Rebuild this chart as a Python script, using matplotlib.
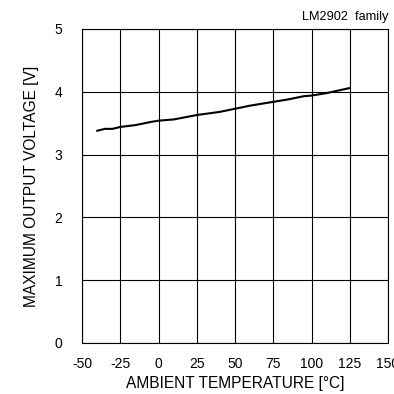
import matplotlib
matplotlib.use("Agg")
import matplotlib.pyplot as plt

temperature = [-40, -35, -30, -25, -15, -5, 0, 10, 25, 40, 50, 60, 75, 85, 95, 100, 110, 125]
voltage = [3.38, 3.41, 3.41, 3.44, 3.47, 3.52, 3.54, 3.56, 3.63, 3.68, 3.73, 3.78, 3.84, 3.88, 3.93, 3.94, 3.98, 4.06]
x_ticks = [-50, -25, 0, 25, 50, 75, 100, 125, 150]
y_ticks = [0, 1, 2, 3, 4, 5]

plt.rcParams['font.family'] = ['Liberation Sans', 'DejaVu Sans']
plt.rcParams['axes.unicode_minus'] = False

fig = plt.figure(figsize=(3.94, 3.94), dpi=100)
ax = fig.add_axes([82/394, 51/394, 306/394, 314/394])
ax.plot(temperature, voltage, color='black', linewidth=1.5)
ax.set_xlim(-50, 150)
ax.set_ylim(0, 5)
ax.set_xticks(x_ticks)
ax.set_yticks(y_ticks)
ax.grid(True, color='black', linewidth=0.8)
ax.tick_params(length=0, labelsize=10)
ax.tick_params(axis='y', pad=14)
ax.tick_params(axis='x', pad=10)
for s in ax.spines.values():
    s.set_linewidth(0.8)
ax.set_xlabel('AMBIENT TEMPERATURE [°C]', fontsize=11.2, labelpad=4)
ax.set_ylabel('MAXIMUM OUTPUT VOLTAGE [V]', fontsize=11.2, labelpad=11)
ax.text(1.0, 1.02, 'LM2902  family', transform=ax.transAxes, ha='right', va='bottom', fontsize=9.2)
fig.savefig('out.png', dpi=100)
